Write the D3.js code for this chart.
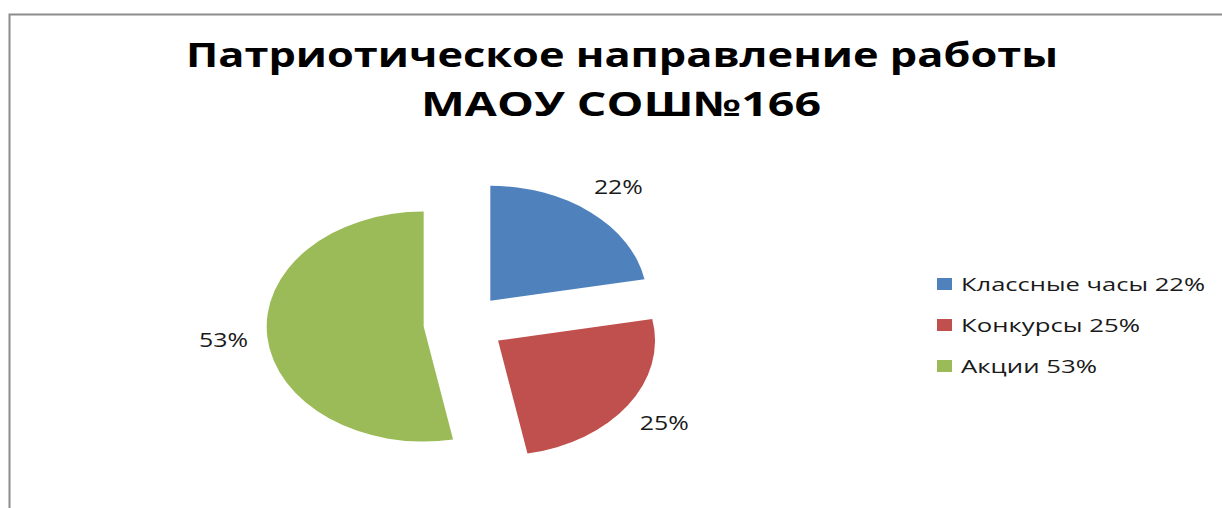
<!DOCTYPE html>
<html>
<head>
<meta charset="utf-8">
<script src="https://cdn.jsdelivr.net/npm/d3@7"></script>
<style>
  body { margin: 0; background: #fff; }
  svg { display: block; }
</style>
</head>
<body>
<svg id="chart" width="1222" height="508"></svg>
<script>
// data
const titleLines = ['Патриотическое направление работы', 'МАОУ СОШ№166'];
const categories = ['Классные часы', 'Конкурсы', 'Акции'];
const values = [22, 25, 53];
const colors = ['#4F81BD', '#C0504D', '#9BBB59'];

const svg = d3.select('#chart');
const fontFamily = '"Open Sans", "DejaVu Sans", sans-serif';

// chart frame (only top and left edges are visible in the picture)
svg.append('path')
  .attr('d', 'M9.5,508 V14.5 H1222')
  .attr('fill', 'none')
  .attr('stroke', '#8c8c8c')
  .attr('stroke-width', 2);

// title, two lines
const titleLayout = [
  { cx: 622, y: 67, width: 872 },
  { cx: 621, y: 116, width: 400 }
];
svg.append('g').selectAll('text')
  .data(titleLines)
  .join('text')
    .attr('x', (d, i) => titleLayout[i].cx)
    .attr('y', (d, i) => titleLayout[i].y)
    .attr('text-anchor', 'middle')
    .attr('font-family', fontFamily)
    .attr('font-weight', 'bold')
    .attr('font-size', 34)
    .attr('textLength', (d, i) => titleLayout[i].width)
    .attr('lengthAdjust', 'spacingAndGlyphs')
    .attr('fill', '#000')
    .text(d => d);

// pie: drawn round, then stretched horizontally like the source
const cx = 464.3, cy = 323.8;
const radius = 115;
const stretch = 1.365;
const explode = 0.26;
const labelRadius = 1.54;

const pie = d3.pie().sort(null).value(d => d);
const arcs = pie(values);
const arc = d3.arc().innerRadius(0).outerRadius(radius);

const mid = d => (d.startAngle + d.endAngle) / 2;

const pieG = svg.append('g')
  .attr('transform', 'translate(' + cx + ',' + cy + ') scale(' + stretch + ',1)');

pieG.selectAll('path')
  .data(arcs)
  .join('path')
    .attr('transform', d => 'translate(' + (explode * radius * Math.sin(mid(d))) + ',' +
      (-explode * radius * Math.cos(mid(d))) + ')')
    .attr('d', arc)
    .attr('fill', (d, i) => colors[i]);

// data labels, outside end
svg.append('g').selectAll('text')
  .data(arcs)
  .join('text')
    .attr('x', d => cx + stretch * labelRadius * radius * Math.sin(mid(d)))
    .attr('y', d => cy - labelRadius * radius * Math.cos(mid(d)) + 7)
    .attr('text-anchor', 'middle')
    .attr('font-family', fontFamily)
    .attr('font-size', 20)
    .attr('textLength', 49)
    .attr('lengthAdjust', 'spacingAndGlyphs')
    .attr('fill', '#1a1a1a')
    .text(d => d.data + '%');

// legend
const legendX = 937, legendY0 = 284, legendStep = 41;
const legendWidths = [244, 179, 136];
const legend = svg.append('g').selectAll('g')
  .data(categories)
  .join('g')
    .attr('transform', (d, i) => 'translate(' + legendX + ',' + (legendY0 + i * legendStep) + ')');

legend.append('rect')
  .attr('x', 0)
  .attr('y', -6)
  .attr('width', 15)
  .attr('height', 12)
  .attr('fill', (d, i) => colors[i]);

legend.append('text')
  .attr('x', 24)
  .attr('y', 7)
  .attr('font-family', fontFamily)
  .attr('font-size', 18)
  .attr('textLength', (d, i) => legendWidths[i])
  .attr('lengthAdjust', 'spacingAndGlyphs')
  .attr('fill', '#1a1a1a')
  .text((d, i) => d + ' ' + values[i] + '%');
</script>
</body>
</html>
